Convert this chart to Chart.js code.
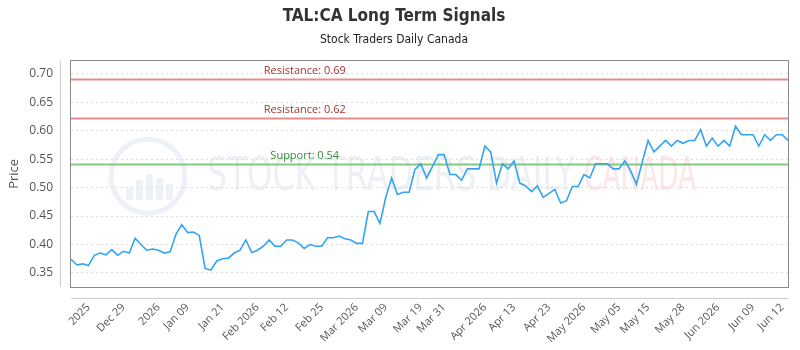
<!DOCTYPE html>
<html>
<head>
<meta charset="utf-8">
<script src="https://cdn.jsdelivr.net/npm/chart.js@4.4.0/dist/chart.umd.min.js"></script>
<style>
  html, body { margin: 0; padding: 0; background: #fff; }
</style>
</head>
<body>
<canvas id="signalChart" width="800" height="350"></canvas>
<script>
// Price series (one value per trading day)
const prices = [
  0.374, 0.364, 0.366, 0.363, 0.381, 0.385, 0.382, 0.391, 0.381, 0.388, 0.385, 0.411, 0.400, 0.390, 0.392, 0.390, 0.385,
  0.387, 0.418, 0.435, 0.421, 0.422, 0.416, 0.358, 0.355, 0.371, 0.375, 0.376, 0.385, 0.390, 0.408, 0.386, 0.390,
  0.397, 0.408, 0.397, 0.397, 0.408, 0.408, 0.403, 0.393, 0.400, 0.397, 0.397, 0.412, 0.412, 0.415, 0.410, 0.408,
  0.402, 0.402, 0.458, 0.458, 0.437, 0.483, 0.517, 0.488, 0.492, 0.492, 0.532, 0.542, 0.517, 0.537, 0.558,
  0.558, 0.523, 0.523, 0.513, 0.533, 0.533, 0.533, 0.573, 0.563, 0.508, 0.542, 0.533, 0.547, 0.508, 0.503, 0.493,
  0.503, 0.483, 0.490, 0.497, 0.473, 0.477, 0.502, 0.502, 0.523, 0.517, 0.542, 0.542, 0.542, 0.533, 0.533,
  0.547, 0.530, 0.506, 0.545, 0.583, 0.563, 0.573, 0.583, 0.573, 0.583, 0.578, 0.583, 0.583, 0.602, 0.573,
  0.587, 0.573, 0.583, 0.573, 0.608, 0.593, 0.593, 0.593, 0.573, 0.593, 0.583, 0.593, 0.593, 0.583
];

// Tick labels on the x axis and the point index each one sits on
const tickLabels = ['2025', 'Dec 29', '2026', 'Jan 09', 'Jan 21', 'Feb 2026', 'Feb 12', 'Feb 25', 'Mar 2026', 'Mar 09',
  'Mar 19', 'Mar 31', 'Apr 2026', 'Apr 13', 'Apr 23', 'May 2026', 'May 05', 'May 15', 'May 28', 'Jun 2026', 'Jun 09', 'Jun 12'];
const tickIndex = [3, 9, 15, 20, 26, 32, 37, 43, 49, 54, 60, 64, 71, 76, 82, 88, 94, 99, 105, 111, 117, 122];

// y axis tick values
const yTicks = [0.35, 0.40, 0.45, 0.50, 0.55, 0.60, 0.65, 0.70];

// Support / resistance levels
const levelValues = [0.69, 0.62, 0.54];
const levelNames = ['Resistance: 0.69', 'Resistance: 0.62', 'Support: 0.54'];
const levelKinds = ['resistance', 'resistance', 'support'];

// build the category labels: empty except where a tick label sits
const labels = prices.map(() => '');
tickIndex.forEach((idx, i) => { labels[idx] = tickLabels[i]; });

const levelStyle = {
  resistance: { line: 'rgba(226, 110, 110, 0.8)', text: '#a83232' },
  support: { line: 'rgba(110, 190, 110, 0.85)', text: '#3b8a3b' }
};

// frame, offset axis lines, watermark and level lines
const decorPlugin = {
  id: 'decor',
  beforeDraw(chart) {
    const ctx = chart.ctx;
    const area = chart.chartArea;
    ctx.save();
    // faint watermark: logo ring with little bars, then the name
    const cy = area.top + (area.bottom - area.top) * 0.51;
    const cx = 148;
    ctx.strokeStyle = '#edf1f7';
    ctx.lineWidth = 5;
    ctx.beginPath();
    ctx.arc(cx, cy, 37, 0, Math.PI * 2);
    ctx.stroke();
    ctx.fillStyle = '#eef2f8';
    [[-22, 12], [-12, 20], [-2, 26], [8, 22], [18, 16]].forEach(b => {
      ctx.fillRect(cx + b[0], cy + 28 - b[1] - 4, 7, b[1]);
    });
    ctx.font = '46px "Liberation Sans Narrow", "DejaVu Sans Condensed", sans-serif';
    ctx.textBaseline = 'middle';
    ctx.textAlign = 'left';
    const t1 = 'STOCK TRADERS DAILY';
    const w1 = ctx.measureText(t1).width;
    ctx.save();
    ctx.translate(207, cy + 2);
    ctx.scale(368 / w1, 1);
    ctx.fillStyle = '#edf1f6';
    ctx.fillText(t1, 0, 0);
    ctx.restore();
    const t2 = 'CANADA';
    const w2 = ctx.measureText(t2).width;
    ctx.save();
    ctx.translate(584, cy + 2);
    ctx.scale(112 / w2, 1);
    ctx.fillStyle = '#fde6e7';
    ctx.fillText(t2, 0, 0);
    ctx.restore();
    ctx.restore();
  },
  beforeDatasetsDraw(chart) {
    const ctx = chart.ctx;
    const area = chart.chartArea;
    const y = chart.scales.y;
    ctx.save();
    // level lines
    levelValues.forEach((v, i) => {
      const py = Math.round(y.getPixelForValue(v)) - 0.5;
      const st = levelStyle[levelKinds[i]];
      ctx.strokeStyle = st.line;
      ctx.lineWidth = 2;
      ctx.beginPath();
      ctx.moveTo(area.left, py);
      ctx.lineTo(area.right, py);
      ctx.stroke();
      ctx.fillStyle = st.text;
      ctx.font = '11px "Open Sans", sans-serif';
      ctx.textAlign = 'center';
      ctx.textBaseline = 'middle';
      ctx.fillText(levelNames[i], area.left + (area.right - area.left) * 0.326, py - 9);
    });
    ctx.restore();
  },
  afterDraw(chart) {
    const ctx = chart.ctx;
    const area = chart.chartArea;
    ctx.save();
    // plot frame
    ctx.strokeStyle = '#8a8a8a';
    ctx.lineWidth = 1;
    ctx.strokeRect(Math.round(area.left) - 0.5, Math.round(area.top) - 0.5,
      Math.round(area.right - area.left) + 1, Math.round(area.bottom - area.top) + 1);
    // offset axis lines
    ctx.strokeStyle = '#cccccc';
    ctx.beginPath();
    ctx.moveTo(area.left - 10.5, area.top);
    ctx.lineTo(area.left - 10.5, area.bottom);
    ctx.moveTo(area.left, area.bottom + 11.5);
    ctx.lineTo(area.right, area.bottom + 11.5);
    ctx.stroke();
    ctx.restore();
  }
};

const ctx = document.getElementById('signalChart').getContext('2d');
new Chart(ctx, {
  type: 'line',
  data: {
    labels: labels,
    datasets: [{
      data: prices,
      borderColor: '#33a4f4',
      borderWidth: 1.6,
      pointRadius: 0,
      tension: 0,
      fill: false
    }]
  },
  options: {
    responsive: false,
    animation: false,
    layout: { padding: { left: 0, right: 12, top: 0, bottom: 0 } },
    plugins: {
      legend: { display: false },
      tooltip: { enabled: false },
      title: {
        display: true,
        text: 'TAL:CA Long Term Signals',
        color: '#333333',
        font: { family: '"Liberation Sans Narrow", "DejaVu Sans Condensed", sans-serif', size: 17, weight: 'bold' },
        padding: { top: 6, bottom: 4 }
      },
      subtitle: {
        display: true,
        text: 'Stock Traders Daily Canada',
        color: '#222222',
        font: { family: '"Liberation Sans Narrow", "DejaVu Sans Condensed", sans-serif', size: 12 },
        padding: { top: 2, bottom: 14 }
      }
    },
    scales: {
      x: {
        grid: { display: false, drawTicks: false },
        border: { display: false },
        ticks: {
          autoSkip: false,
          minRotation: 45,
          maxRotation: 45,
          padding: 14,
          color: '#555555',
          font: { family: '"Open Sans", sans-serif', size: 11 }
        },
        afterFit(scale) {
          scale.height = 63;
          scale.paddingLeft = 0;
          scale.paddingRight = 0;
        }
      },
      y: {
        min: 0.3253,
        max: 0.723,
        grid: { color: '#dddddd', drawTicks: false },
        border: { display: false, dash: [2, 3] },
        ticks: {
          padding: 18,
          color: '#555555',
          font: { family: '"Open Sans", sans-serif', size: 12 },
          callback: (v) => v.toFixed(2)
        },
        title: {
          display: true,
          text: 'Price',
          color: '#555555',
          font: { family: '"Open Sans", sans-serif', size: 13 },
          padding: { top: 6, bottom: 0 }
        },
        afterBuildTicks(scale) { scale.ticks = yTicks.map(v => ({ value: v })); },
        afterFit(scale) { scale.width = 71; }
      }
    }
  },
  plugins: [decorPlugin]
});
</script>
</body>
</html>
